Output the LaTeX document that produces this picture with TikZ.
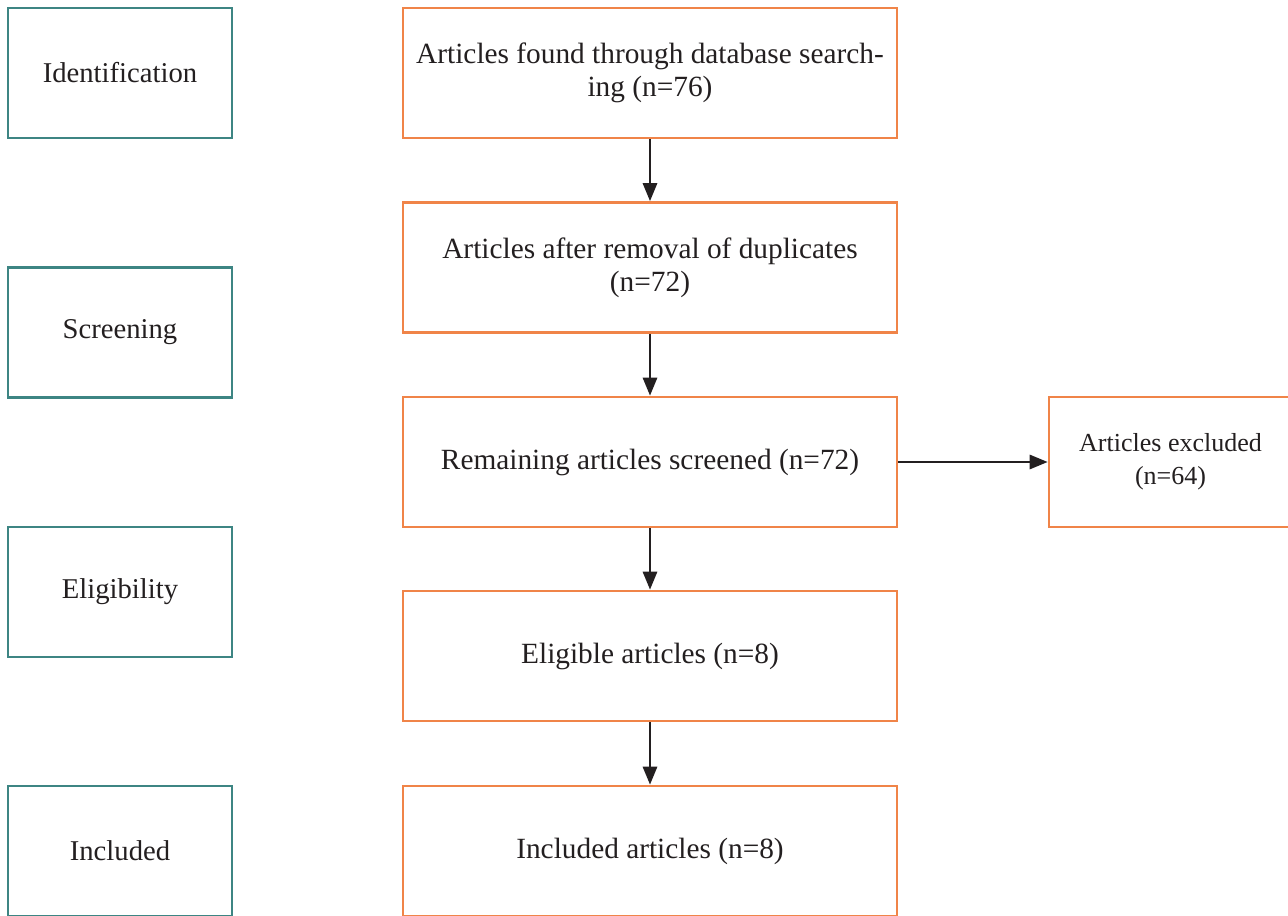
\documentclass[tikz,border=0pt]{standalone}
\usepackage{fontspec}
\setmainfont{Liberation Serif}
\usetikzlibrary{arrows.meta}
\definecolor{stageteal}{RGB}{61,133,131}
\definecolor{boxorange}{RGB}{240,132,72}
\definecolor{txt}{RGB}{35,31,32}
\begin{document}
\begin{tikzpicture}[x=0.75pt,y=-0.75pt,
  stagebox/.style={draw=stageteal,line width=1.9pt,minimum width=224*0.75pt,minimum height=130*0.75pt,inner sep=0pt,font=\fontsize{21.5}{25}\selectfont,text=txt,align=center},
  flowbox/.style={draw=boxorange,line width=1.9pt,minimum width=494*0.75pt,minimum height=130*0.75pt,inner sep=0pt,font=\fontsize{22}{25}\selectfont,text=txt,align=center},
  sidebox/.style={draw=boxorange,line width=1.9pt,minimum width=243*0.75pt,minimum height=130*0.75pt,inner sep=0pt,font=\fontsize{19.5}{25}\selectfont,text=txt,align=center},
  flowarrow/.style={draw=txt,line width=2.1pt,-{Triangle[length=13.5pt,width=10.5pt]}}]
\useasboundingbox (0,0) rectangle (1288,916);
\fill[white] (0,0) rectangle (1288,916);
\node[stagebox] (s1) at (120,73) {Identification};
\node[stagebox] (s2) at (120,332.5) {Screening};
\node[stagebox] (s3) at (120,592) {Eligibility};
\node[stagebox] (s4) at (120,851) {Included};
\node[flowbox] (f1) at (650,73) {Articles found through database search-\\ing (n=76)};
\node[flowbox] (f2) at (650,267.5) {Articles after removal of duplicates\\(n=72)};
\node[flowbox] (f3) at (650,462) {Remaining articles screened (n=72)};
\node[flowbox] (f4) at (650,656) {Eligible articles (n=8)};
\node[flowbox] (f5) at (650,851) {Included articles (n=8)};
\node[sidebox] (x1) at (1170.5,462) {Articles excluded\\(n=64)};
\draw[flowarrow] (f1) -- (f2);
\draw[flowarrow] (f2) -- (f3);
\draw[flowarrow] (f3) -- (f4);
\draw[flowarrow] (f4) -- (f5);
\draw[flowarrow] (f3.east) -- (x1.west);
\end{tikzpicture}
\end{document}
